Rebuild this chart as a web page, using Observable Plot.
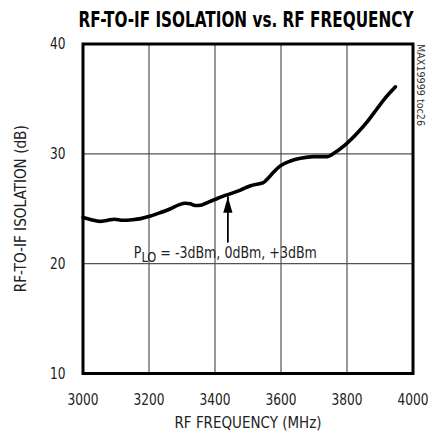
<!DOCTYPE html>
<html><head><meta charset="utf-8">
<script src="https://cdn.jsdelivr.net/npm/d3@7"></script>
<script src="https://cdn.jsdelivr.net/npm/@observablehq/plot@0.6"></script>
<style>body{margin:0;background:#fff}</style>
</head><body><div id="chart"></div>
<script>
const freq = [3000,3025,3050,3075,3095,3120,3150,3175,3200,3230,3265,3290,3310,3325,3340,3360,3380,3400,3425,3450,3477,3508,3530,3545,3560,3578,3598,3629,3659,3699,3740,3760,3790,3830,3861,3881,3911,3947];
const isolation = [24.2,24.0,23.85,23.95,24.05,23.95,24.0,24.1,24.3,24.6,25.0,25.35,25.5,25.45,25.3,25.35,25.6,25.85,26.15,26.4,26.7,27.1,27.25,27.35,27.75,28.35,28.9,29.35,29.6,29.75,29.75,30.05,30.7,31.85,32.9,33.7,34.9,36.1];
const xTicks = [3000,3200,3400,3600,3800,4000];
const yTicks = [10,20,30,40];
const xGrid = [3200,3400,3600,3800];
const yGrid = [20,30];
const title = "RF-TO-IF ISOLATION vs. RF FREQUENCY";
const xLabel = "RF FREQUENCY (MHz)";
const yLabel = "RF-TO-IF ISOLATION (dB)";
const noteLabel = "PLO = -3dBm, 0dBm, +3dBm";
const noteFreq = [3154];
const noteLevel = [20.53];
const arrowFreq = [3439];
const arrowTip = [26.1];
const arrowTail = [22.6];
const tocLabel = "MAX19999 toc26";

const data = freq.map((f, i) => ({f, v: isolation[i]}));
const arrow = arrowFreq.map((f, i) => ({f, tip: arrowTip[i], tail: arrowTail[i]}));
const note = noteFreq.map((f, i) => ({f, v: noteLevel[i], label: noteLabel}));

const head = {
  draw(ctx, size) {
    const r = Math.sqrt(size / Math.PI);
    const hw = r * 4.6 / 16;
    ctx.moveTo(0, 0);
    ctx.lineTo(-hw, r);
    ctx.lineTo(hw, r);
    ctx.closePath();
  }
};

const font = "'Liberation Sans Narrow', 'DejaVu Sans Condensed', sans-serif";

const chart = Plot.plot({
  width: 428,
  height: 432,
  marginLeft: 82.5,
  marginRight: 15.5,
  marginTop: 43.5,
  marginBottom: 59,
  style: {fontFamily: font, fontSize: "16.5px", color: "#222", background: "#fff"},
  x: {domain: [3000, 4000], ticks: xTicks, tickSize: 0, tickPadding: 20, label: null, tickFormat: d => String(d)},
  y: {domain: [10, 40], ticks: yTicks, tickSize: 0, tickPadding: 17.5, label: null},
  marks: [
    Plot.ruleX(xGrid, {stroke: "#555", strokeWidth: 1.2}),
    Plot.ruleY(yGrid, {stroke: "#555", strokeWidth: 1.2}),
    Plot.line(data, {x: "f", y: "v", stroke: "#000", strokeWidth: 3.6, curve: "monotone-x"}),
    Plot.ruleX(arrow, {x: "f", y1: "tail", y2: "tip", stroke: "#000", strokeWidth: 1.8, insetTop: 8}),
    Plot.dot(arrow, {x: "f", y: "tip", symbol: head, r: 16, fill: "#000", stroke: null}),
    Plot.text(note, {x: "f", y: "v", text: "label", textAnchor: "start", lineAnchor: "bottom", fill: "#222", fontSize: 16}),
    Plot.frame({stroke: "#000", strokeWidth: 3}),
    Plot.text([title], {frameAnchor: "top", dx: -2, dy: -24, lineAnchor: "middle", fontWeight: "bold", fontSize: 20.6, fill: "#000"}),
    Plot.text([xLabel], {frameAnchor: "bottom", dy: 49, lineAnchor: "middle", fill: "#222"}),
    Plot.text([yLabel], {frameAnchor: "left", dx: -62.5, rotate: -90, textAnchor: "middle", lineAnchor: "middle", fill: "#222"}),
    Plot.text([tocLabel], {frameAnchor: "top-right", dx: 7.5, rotate: 90, textAnchor: "start", lineAnchor: "middle", fontSize: 10.5, fill: "#333"})
  ]
});

const ns = "http://www.w3.org/2000/svg";
chart.querySelectorAll("text").forEach(t => {
  if (t.textContent === noteLabel) {
    t.textContent = "";
    const a = document.createElementNS(ns, "tspan"); a.textContent = "P";
    const b = document.createElementNS(ns, "tspan"); b.textContent = "LO"; b.setAttribute("dy", "4"); b.setAttribute("font-size", "14.5");
    const c = document.createElementNS(ns, "tspan"); c.textContent = " = -3dBm, 0dBm, +3dBm"; c.setAttribute("dy", "-4");
    t.append(a, b, c);
  }
});

document.getElementById("chart").append(chart);

// condense glyphs to match the narrow face of the reference
const targets = new Map([[title, 335], [xLabel, 147], [yLabel, 167], [tocLabel, 82]]);
function fit(el, target) {
  const len = el.getComputedTextLength();
  if (len > 0) {
    el.setAttribute("textLength", target.toFixed(2));
    el.setAttribute("lengthAdjust", "spacingAndGlyphs");
  }
}
const all = Array.from(chart.querySelectorAll("text"));
all.forEach(t => {
  if (targets.has(t.textContent)) fit(t, targets.get(t.textContent));
});
const noteEl = all.find(t => t.querySelector("tspan") && t.textContent === noteLabel);
if (noteEl) {
  const spans = Array.from(noteEl.querySelectorAll("tspan"));
  const total = spans.reduce((s, sp) => s + sp.getComputedTextLength(), 0);
  const k = 183 / total;
  spans.forEach(sp => fit(sp, sp.getComputedTextLength() * k));
}
const tickTexts = all.filter(t => {
  const g = t.closest("g[aria-label]");
  return g && /tick label/.test(g.getAttribute("aria-label"));
});
const ref = tickTexts.find(t => t.textContent === "3000");
if (ref) {
  const k = 31 / ref.getComputedTextLength();
  tickTexts.forEach(t => fit(t, t.getComputedTextLength() * k));
}
</script>
</body></html>
